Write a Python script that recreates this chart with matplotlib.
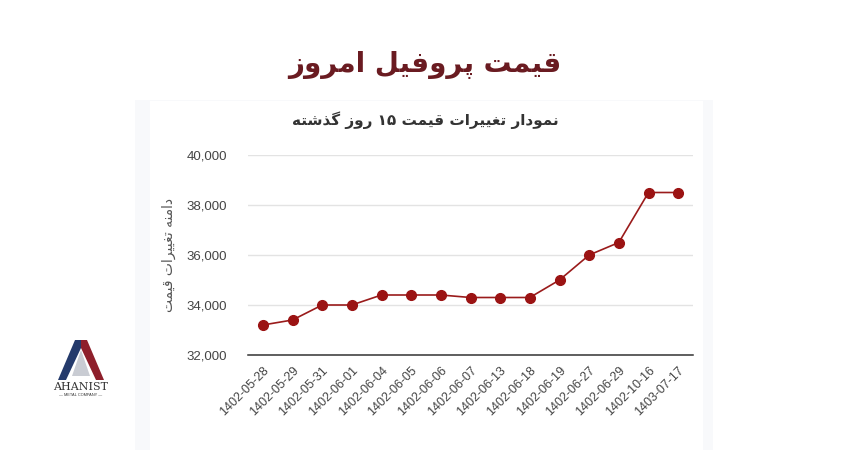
import matplotlib.pyplot as plt
from matplotlib.patches import Rectangle, Polygon
import numpy as np

# data
dates = ["1402-05-28", "1402-05-29", "1402-05-31", "1402-06-01", "1402-06-04",
         "1402-06-05", "1402-06-06", "1402-06-07", "1402-06-13", "1402-06-18",
         "1402-06-19", "1402-06-27", "1402-06-29", "1402-10-16", "1403-07-17"]
prices = [33200, 33400, 34000, 34000, 34400, 34400, 34400, 34300, 34300, 34300,
          35000, 36000, 36500, 38500, 38500]
yticks = [32000, 34000, 36000, 38000, 40000]

title = "قیمت پروفیل امروز"
subtitle = "نمودار تغییرات قیمت ۱۵ روز گذشته"
ylabel = "دامنه تغییرات قیمت"

# minimal arabic/persian shaping (presentation forms) since matplotlib has no RTL
forms = {  # isolated, final, initial, medial
    'ا': ('\uFE8D', '\uFE8E', None, None),
    'د': ('\uFEA9', '\uFEAA', None, None),
    'ذ': ('\uFEAB', '\uFEAC', None, None),
    'ر': ('\uFEAD', '\uFEAE', None, None),
    'ز': ('\uFEAF', '\uFEB0', None, None),
    'و': ('\uFEED', '\uFEEE', None, None),
    'ت': ('\uFE95', '\uFE96', '\uFE97', '\uFE98'),
    'ش': ('\uFEB5', '\uFEB6', '\uFEB7', '\uFEB8'),
    'غ': ('\uFECD', '\uFECE', '\uFECF', '\uFED0'),
    'ف': ('\uFED1', '\uFED2', '\uFED3', '\uFED4'),
    'ق': ('\uFED5', '\uFED6', '\uFED7', '\uFED8'),
    'ل': ('\uFEDD', '\uFEDE', '\uFEDF', '\uFEE0'),
    'م': ('\uFEE1', '\uFEE2', '\uFEE3', '\uFEE4'),
    'ن': ('\uFEE5', '\uFEE6', '\uFEE7', '\uFEE8'),
    'ه': ('\uFEE9', '\uFEEA', '\uFEEB', '\uFEEC'),
    'ی': ('\uFBFC', '\uFBFD', '\uFBFE', '\uFBFF'),
    'پ': ('\uFB56', '\uFB57', '\uFB58', '\uFB59'),
    'گ': ('\uFB92', '\uFB93', '\uFB94', '\uFB95'),
}


def shape_word(w):
    if not any(c in forms for c in w):
        return w
    out = []
    for i, c in enumerate(w):
        if c not in forms:
            out.append(c)
            continue
        prev = w[i - 1] if i > 0 else None
        nxt = w[i + 1] if i < len(w) - 1 else None
        join_prev = prev in forms and forms[prev][2] is not None
        join_next = nxt in forms and forms[c][2] is not None
        f = forms[c]
        if join_prev and join_next:
            out.append(f[3])
        elif join_prev:
            out.append(f[1])
        elif join_next:
            out.append(f[2])
        else:
            out.append(f[0])
    return "".join(out[::-1])


def rtl(s):
    return " ".join(shape_word(w) for w in s.split(" ")[::-1])


plt.rcParams['font.family'] = ['Liberation Sans', 'DejaVu Sans']

fig = plt.figure(figsize=(8.5, 4.5), dpi=100)
fig.patch.set_facecolor('white')

# panel
fig.patches.append(Rectangle((135 / 850, 0), 578 / 850, 350 / 450,
                             transform=fig.transFigure, facecolor='#f8f9fb',
                             edgecolor='none', zorder=-10))
fig.patches.append(Rectangle((150 / 850, 0), 553 / 850, 349 / 450,
                             transform=fig.transFigure, facecolor='white',
                             edgecolor='none', zorder=-9))

fig.text(0.5, 1 - 65 / 450, rtl(title), ha='center', va='center',
         fontsize=20, fontweight='bold', color='#6a1b21', family='DejaVu Sans')
fig.text(0.5, 1 - 120 / 450, rtl(subtitle), ha='center', va='center',
         fontsize=11, fontweight='bold', color='#333333', family='DejaVu Sans')

ax = fig.add_axes([248 / 850, 95 / 450, 445 / 850, 200 / 450])
ax.set_facecolor('none')
x = np.arange(len(dates))
ax.plot(x, prices, color='#9a1b1b', lw=1.2, marker='o', markersize=7,
        markerfacecolor='#9b1313', markeredgecolor='#9b1313', zorder=3)
ax.set_xlim(-0.5, len(dates) - 0.5)
ax.set_ylim(yticks[0], yticks[-1])
ax.set_yticks(yticks)
ax.set_yticklabels([f"{v:,}" for v in yticks])
ax.set_xticks(x)
ax.set_xticklabels(dates, rotation=45, ha='right', rotation_mode='anchor')
ax.tick_params(axis='both', length=0, colors='#444444')
ax.tick_params(axis='y', pad=15, labelsize=9.5)
ax.tick_params(axis='x', pad=7, labelsize=9)
ax.grid(axis='y', color='#e3e3e3', lw=1)
ax.set_axisbelow(True)
for s in ['left', 'right', 'top']:
    ax.spines[s].set_visible(False)
ax.spines['bottom'].set_color('#333333')
ax.spines['bottom'].set_linewidth(1.1)
ax.set_ylabel(rtl(ylabel), fontsize=10, color='#555555', labelpad=8,
              family='DejaVu Sans')

# logo
lg = fig.add_axes([50 / 850, 48 / 450, 62 / 450 * 450 / 850, 66 / 450])
lg.set_xlim(0, 62)
lg.set_ylim(66, 0)
lg.axis('off')
lg.add_patch(Polygon([(8, 44), (25, 4), (31, 4), (31, 12), (16, 44)],
                     facecolor='#243a6b', edgecolor='none'))
lg.add_patch(Polygon([(31, 4), (37, 4), (54, 44), (46, 44), (31, 12)],
                     facecolor='#8e1f2b', edgecolor='none'))
lg.add_patch(Polygon([(31, 14), (22, 40), (40, 40)],
                     facecolor='#c9ccd3', edgecolor='none'))
lg.text(31, 51, "AHANIST", ha='center', va='center', fontsize=8,
        family='DejaVu Serif', color='#333333')
lg.text(31, 59, "— METAL COMPANY —", ha='center', va='center', fontsize=2.8,
        color='#333333')

fig.savefig("out.png", dpi=100)
